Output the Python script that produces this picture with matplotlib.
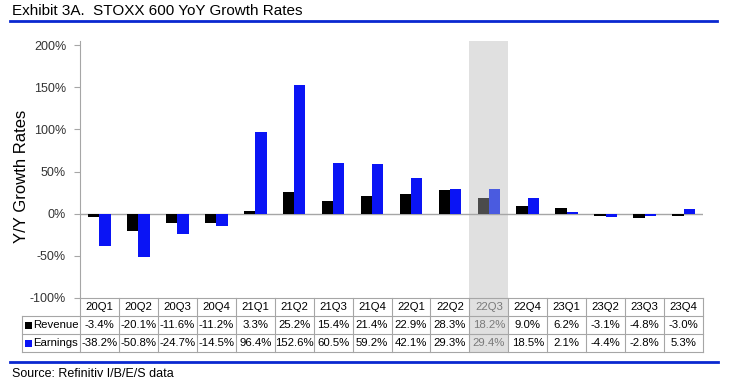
import matplotlib
matplotlib.use("Agg")
import matplotlib.pyplot as plt
from matplotlib.lines import Line2D
from matplotlib.patches import Rectangle
import matplotlib.transforms as mtransforms

plt.rcParams['font.family'] = ['Liberation Sans', 'DejaVu Sans']

quarters = ["20Q1", "20Q2", "20Q3", "20Q4", "21Q1", "21Q2", "21Q3", "21Q4",
            "22Q1", "22Q2", "22Q3", "22Q4", "23Q1", "23Q2", "23Q3", "23Q4"]
revenue = [-3.4, -20.1, -11.6, -11.2, 3.3, 25.2, 15.4, 21.4,
           22.9, 28.3, 18.2, 9.0, 6.2, -3.1, -4.8, -3.0]
earnings = [-38.2, -50.8, -24.7, -14.5, 96.4, 152.6, 60.5, 59.2,
            42.1, 29.3, 29.4, 18.5, 2.1, -4.4, -2.8, 5.3]
highlight = "22Q3"
yticks = [-100, -50, 0, 50, 100, 150, 200]

W, H = 739, 384
fig = plt.figure(figsize=(W / 100, H / 100), dpi=100)

def fx(x):
    return x / W

def fy(y):
    return 1 - y / H

ax_left, ax_right, ax_top, ax_bot = 80, 703, 41, 298
ax = fig.add_axes([fx(ax_left), fy(ax_bot), (ax_right - ax_left) / W, (ax_bot - ax_top) / H])
ax.patch.set_alpha(0)

n = len(quarters)
hi = quarters.index(highlight)
BLUE = "#0a14f5"
rev_cols = ["#4b4b4b" if i == hi else "#000000" for i in range(n)]
ear_cols = ["#4a5be0" if i == hi else BLUE for i in range(n)]
bw = 0.29
xs = list(range(n))
ax.bar([x - bw / 2 for x in xs], revenue, width=bw, color=rev_cols, zorder=3)
ax.bar([x + bw / 2 for x in xs], earnings, width=bw, color=ear_cols, zorder=3)

ax.set_xlim(-0.5, n - 0.5)
ax.set_ylim(-100, 200 + (45 - ax_top) * 300 / (ax_bot - 45))
ax.axhline(0, color="#a6a6a6", lw=1.0, zorder=2)
ax.set_yticks(yticks)
ax.set_yticklabels([f"{t}%" for t in yticks], fontsize=9)
ax.set_xticks([])
for s in ["top", "right", "bottom"]:
    ax.spines[s].set_visible(False)
ax.spines["left"].set_color("#a6a6a6")
ax.tick_params(axis="y", direction="out", length=4, color="#a6a6a6", pad=6, labelcolor="#333333")

# blended transform: x in data, y in figure fraction
bt = mtransforms.blended_transform_factory(ax.transData, fig.transFigure)

# highlight band
band = Rectangle((hi - 0.5, fy(352)), 1.0, fy(ax_top) - fy(352), transform=bt,
                 facecolor="#e0e0e0", edgecolor="none", zorder=0, clip_on=False)
ax.add_patch(band)

# table
row_y = [298, 316, 334, 352]
gc = "#a6a6a6"
lw = 0.8
fig.add_artist(Line2D([fx(80), fx(703)], [fy(298), fy(298)], color=gc, lw=lw))
for yy in row_y[1:]:
    fig.add_artist(Line2D([fx(22), fx(703)], [fy(yy), fy(yy)], color=gc, lw=lw))
fig.add_artist(Line2D([fx(22), fx(22)], [fy(316), fy(352)], color=gc, lw=lw))
for i in range(n + 1):
    ax.add_line(Line2D([i - 0.5, i - 0.5], [fy(298), fy(352)], transform=bt, color=gc, lw=lw, clip_on=False))

tfs = 8.2
for i in range(n):
    c = "#7a7a7a" if i == hi else "#000000"
    ax.text(i, fy(307), quarters[i], transform=bt, ha="center", va="center", fontsize=tfs, color=c, clip_on=False)
    ax.text(i, fy(325), f"{revenue[i]:.1f}%", transform=bt, ha="center", va="center", fontsize=tfs, color=c, clip_on=False)
    ax.text(i, fy(343), f"{earnings[i]:.1f}%", transform=bt, ha="center", va="center", fontsize=tfs, color=c, clip_on=False)

fig.add_artist(Rectangle((fx(25), fy(329)), 7 / W, 7 / H, transform=fig.transFigure, facecolor="#000000", edgecolor="none"))
fig.add_artist(Rectangle((fx(25), fy(347)), 7 / W, 7 / H, transform=fig.transFigure, facecolor=BLUE, edgecolor="none"))
fig.text(fx(33), fy(325), "Revenue", ha="left", va="center", fontsize=tfs)
fig.text(fx(33), fy(343), "Earnings", ha="left", va="center", fontsize=tfs)

# y label
fig.text(fx(22), fy(176), "Y/Y Growth Rates", rotation=90, ha="center", va="center", fontsize=12)

# title and source
fig.text(fx(12), fy(11), "Exhibit 3A.  STOXX 600 YoY Growth Rates", ha="left", va="center", fontsize=11)
fig.add_artist(Line2D([fx(10), fx(717)], [fy(21), fy(21)], color="#0a28d0", lw=2.0))
fig.add_artist(Line2D([fx(10), fx(718)], [fy(362), fy(362)], color="#0a28d0", lw=2.0))
fig.text(fx(12), fy(374), "Source: Refinitiv I/B/E/S data", ha="left", va="center", fontsize=9)

fig.savefig("out.png", dpi=100)
